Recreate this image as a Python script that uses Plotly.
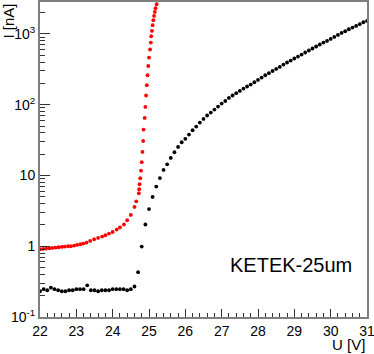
import plotly.graph_objects as go

# black series: 22.0 .. 31.0 V in 0.1 V steps
u_black = [round(22.0 + 0.1 * i, 1) for i in range(91)]
i_black = [
    0.231, 0.247, 0.239, 0.26, 0.247, 0.239, 0.231, 0.231, 0.239, 0.239,
    0.247, 0.247, 0.247, 0.28, 0.239, 0.239, 0.231, 0.239, 0.239, 0.239,
    0.247, 0.247, 0.247, 0.247, 0.239, 0.247, 0.27, 0.43, 0.99, 2.03,
    3.35, 4.97, 6.98, 9.2, 12.0, 14.4, 17.7, 21.3, 25.3, 29.5,
    33.0, 37.9, 43.6, 49.2, 56.0, 63.0, 70.4, 77.6, 85.5, 94.3,
    104, 113, 125, 135, 145.5, 157, 169, 181, 193, 208,
    224, 242, 261, 279, 300, 321, 342, 370, 395, 421,
    450, 480, 512, 547, 584, 623, 665, 710, 757, 798,
    851, 908, 970, 1035, 1093, 1167, 1233, 1300, 1374, 1466,
    1529,
]

# red series (uneven steps)
u_red = [
    22.00, 22.085, 22.17, 22.256, 22.34, 22.43, 22.51, 22.60, 22.68, 22.77,
    22.85, 22.94, 23.02, 23.11, 23.19, 23.28, 23.38, 23.49, 23.60, 23.71,
    23.80, 23.90, 24.00, 24.11, 24.20, 24.31, 24.40, 24.50, 24.60, 24.65,
    24.72, 24.73, 24.74, 24.76, 24.78, 24.80, 24.82, 24.84, 24.85, 24.88,
    24.90, 24.92, 24.94, 24.96, 24.98, 25.00, 25.03, 25.05, 25.06, 25.08,
    25.10, 25.12, 25.14, 25.16, 25.18, 25.21,
]
i_red = [
    0.907, 0.916, 0.928, 0.937, 0.946, 0.958, 0.968, 0.977, 0.990, 1.0,
    1.0, 1.023, 1.043, 1.067, 1.092, 1.128, 1.188, 1.256, 1.31, 1.371,
    1.43, 1.51, 1.59, 1.72, 1.84, 2.03, 2.33, 2.77, 3.59, 4.32,
    5.61, 6.4, 7.52, 9.14, 11.7, 15.4, 21.5, 30.7, 44.6, 65.1,
    93.1, 135, 189, 261, 353, 464, 603, 757, 929, 1104,
    1330, 1565, 1799, 2050, 2313, 2633,
]

y_ticks = [0.1, 1, 10, 100, 1000]
y_ticktext = ["10<sup>-1</sup>", "1", "10", "10<sup>2</sup>", "10<sup>3</sup>"]
x_ticks = list(range(22, 32))

FONT = "Liberation Sans, Arial, sans-serif"

y_minor = [m * 10 ** e for e in range(-1, 4) for m in range(2, 10)]

fig = go.Figure()
fig.add_trace(go.Scatter(x=u_black, y=i_black, mode="markers",
                         marker=dict(color="black", size=3.8), showlegend=False))
fig.add_trace(go.Scatter(x=u_red, y=i_red, mode="markers",
                         marker=dict(color="red", size=3.8), showlegend=False))

fig.update_layout(
    width=374, height=354,
    margin=dict(l=40, r=7, t=2, b=37),
    plot_bgcolor="white", paper_bgcolor="white",
    font=dict(family=FONT, size=13, color="black"),
    xaxis=dict(
        range=[22, 31], tickvals=x_ticks, ticks="inside", ticklen=8,
        tickcolor="#333", showgrid=False, zeroline=False, automargin=False,
        showline=True, linecolor="#7f7f7f", linewidth=2, mirror=True,
        minor=dict(dtick=0.2, ticks="inside", ticklen=4, tickcolor="#333"),
        tickfont=dict(size=14), ticklabeloverflow="allow",
    ),
    yaxis=dict(
        type="log", range=[-1, 3.452], tickvals=y_ticks, ticktext=y_ticktext,
        ticks="inside", ticklen=10, tickcolor="#333", showgrid=False,
        zeroline=False, showline=True, linecolor="#7f7f7f", linewidth=2,
        mirror=True, automargin=False,
        minor=dict(tickvals=y_minor, ticks="inside", ticklen=5, tickcolor="#333"),
        tickfont=dict(size=14), ticklabeloverflow="allow",
    ),
    annotations=[
        dict(text="KETEK-25um", xref="paper", yref="paper", x=0.575, y=0.165,
             xanchor="left", yanchor="middle", showarrow=False,
             font=dict(size=20)),
        dict(text="U [V]", xref="paper", yref="paper", x=1.0, y=0,
             xanchor="right", yanchor="top", yshift=-17, showarrow=False,
             font=dict(size=15)),
        dict(text="I [nA]", xref="paper", yref="paper", x=-32 / 327, y=1.0,
             xanchor="center", yanchor="top", textangle=-90, showarrow=False,
             font=dict(size=15)),
    ],
)

# page body has a default margin; drop it so the figure sits at 0,0
fig.write_html("out.html", config={"displayModeBar": False},
               post_script="document.body.style.margin='0';")
